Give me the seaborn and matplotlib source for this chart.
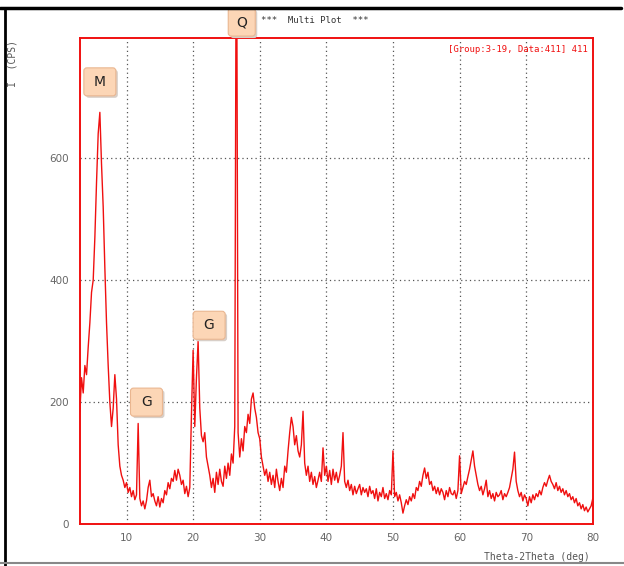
import numpy as np
import pandas as pd
import matplotlib
matplotlib.use("Agg")
import matplotlib.pyplot as plt
import seaborn as sns
from matplotlib.lines import Line2D
from matplotlib.patches import FancyBboxPatch

# 2-theta scan, 0.25 deg step, one row per degree (x.00, x.25, x.50, x.75)
theta_start = 3.0
theta_step = 0.25
counts_rows = [
    [185, 240, 215, 260],   # 3
    [245, 290, 330, 380],   # 4
    [400, 470, 560, 640],   # 5
    [675, 590, 520, 420],   # 6
    [330, 260, 200, 160],   # 7
    [190, 245, 205, 130],   # 8
    [95, 80, 72, 60],       # 9
    [68, 52, 60, 45],       # 10
    [55, 40, 48, 165],      # 11
    [42, 30, 38, 25],       # 12
    [38, 60, 72, 45],       # 13
    [50, 38, 30, 45],       # 14
    [28, 42, 35, 55],       # 15
    [48, 68, 58, 75],       # 16
    [70, 88, 72, 90],       # 17
    [80, 65, 72, 50],       # 18
    [62, 45, 60, 180],      # 19
    [285, 160, 240, 300],   # 20
    [190, 145, 135, 150],   # 21
    [110, 95, 80, 60],      # 22
    [75, 52, 85, 65],       # 23
    [90, 70, 62, 95],       # 24
    [75, 100, 80, 115],     # 25
    [100, 160, 1100, 150],  # 26
    [110, 140, 120, 160],   # 27
    [150, 180, 165, 205],   # 28
    [215, 190, 175, 150],   # 29
    [140, 110, 95, 80],     # 30
    [90, 70, 85, 65],       # 31
    [80, 60, 90, 70],       # 32
    [55, 75, 60, 95],       # 33
    [85, 120, 150, 175],    # 34
    [160, 130, 145, 120],   # 35
    [110, 130, 185, 100],   # 36
    [80, 95, 70, 85],       # 37
    [65, 78, 60, 72],       # 38
    [85, 70, 125, 80],      # 39
    [95, 70, 88, 65],       # 40
    [90, 72, 85, 68],       # 41
    [80, 95, 150, 70],      # 42
    [60, 72, 55, 65],       # 43
    [48, 62, 50, 58],       # 44
    [65, 48, 60, 52],       # 45
    [58, 45, 62, 50],       # 46
    [55, 42, 58, 38],       # 47
    [52, 45, 60, 42],       # 48
    [50, 40, 55, 48],       # 49
    [120, 45, 52, 38],      # 50
    [48, 35, 18, 30],       # 51
    [40, 32, 45, 38],       # 52
    [50, 42, 60, 55],       # 53
    [70, 62, 80, 92],       # 54
    [75, 85, 65, 70],       # 55
    [55, 62, 50, 60],       # 56
    [48, 58, 52, 40],       # 57
    [55, 45, 60, 50],       # 58
    [48, 55, 42, 55],       # 59
    [112, 50, 60, 70],      # 60
    [65, 78, 90, 105],      # 61
    [120, 95, 80, 65],      # 62
    [55, 62, 48, 58],       # 63
    [72, 45, 55, 42],       # 64
    [50, 38, 52, 45],       # 65
    [48, 55, 40, 50],       # 66
    [45, 52, 60, 75],       # 67
    [90, 118, 70, 55],      # 68
    [45, 52, 38, 48],       # 69
    [42, 30, 45, 35],       # 70
    [48, 40, 50, 45],       # 71
    [55, 48, 60, 68],       # 72
    [62, 72, 80, 70],       # 73
    [65, 58, 68, 55],       # 74
    [62, 52, 58, 48],       # 75
    [55, 45, 50, 40],       # 76
    [45, 35, 42, 30],       # 77
    [35, 25, 32, 22],       # 78
    [28, 20, 25, 30],       # 79
    [42],                   # 80
]

# phase labels: text, 2theta and counts at the centre of the label box
peak_labels = ["M", "G", "G", "Q"]
label_theta = [6.0, 13.0, 22.4, 27.3]
label_counts = [725, 200, 326, 823]

x_ticks = [10, 20, 30, 40, 50, 60, 70, 80]
y_ticks = [0, 200, 400, 600]

counts = [c for row in counts_rows for c in row]
theta = theta_start + theta_step * np.arange(len(counts))
df = pd.DataFrame({"theta": theta, "counts": counts})

sns.set_style("white")
plt.rcParams["font.family"] = ["DejaVu Sans"]

fig = plt.figure(figsize=(6.24, 5.66), dpi=100)
ax = fig.add_axes([0.128, 0.074, 0.822, 0.859])

RED = "#f01010"
sns.lineplot(data=df, x="theta", y="counts", ax=ax, color=RED,
             linewidth=1.0, estimator=None)

ax.set_xlim(3, 80)
ax.set_ylim(0, 797)
ax.set_xticks(x_ticks)
ax.set_yticks(y_ticks)
ax.set_xticks(np.arange(4, 80, 2), minor=True)
ax.set_yticks(np.arange(0, 797, 20), minor=True)
ax.set_xlabel("")
ax.set_ylabel("")

ax.grid(True, which="major", color="#555555", linestyle=(0, (1, 2.5)), linewidth=0.9)
for s in ax.spines.values():
    s.set_color(RED)
    s.set_linewidth(1.4)

ax.tick_params(axis="x", which="major", direction="inout", length=7, color=RED,
               labelsize=7.5, labelcolor="#666666", pad=3)
ax.tick_params(axis="x", which="minor", direction="in", length=4, color=RED)
ax.tick_params(axis="y", which="major", direction="out", length=5, color="#444444",
               labelsize=7.5, labelcolor="#666666", pad=3)
ax.tick_params(axis="y", which="minor", direction="in", length=3, color="#666666")

ax.text(0.99, 0.985, "[Group:3-19, Data:411] 411", transform=ax.transAxes,
        ha="right", va="top", color=RED, fontsize=6.5, family="DejaVu Sans Mono")

# label boxes, sized in pixels then turned into data units
px_x = 77 / (0.822 * 624)   # degrees per pixel
px_y = 797 / (0.859 * 566)  # counts per pixel
for lab, tx, ty in zip(peak_labels, label_theta, label_counts):
    w = (27 if lab == "Q" else 32) * px_x
    h = 28 * px_y
    shadow = FancyBboxPatch((tx - w / 2 + 2 * px_x, ty - h / 2 - 2 * px_y), w, h,
                            boxstyle=f"round,pad=0,rounding_size={3 * px_x}",
                            mutation_aspect=px_y / px_x,
                            fc="#d8cfc8", ec="none", clip_on=False, zorder=4)
    face = FancyBboxPatch((tx - w / 2, ty - h / 2), w, h,
                          boxstyle=f"round,pad=0,rounding_size={3 * px_x}",
                          mutation_aspect=px_y / px_x,
                          fc="#fcd6b6", ec="#eab690", lw=0.8, clip_on=False, zorder=5)
    ax.add_patch(shadow)
    ax.add_patch(face)
    ax.text(tx, ty, lab, ha="center", va="center", fontsize=10, color="#222222",
            zorder=6, clip_on=False)

fig.text(0.505, 0.963, "***  Multi Plot  ***", ha="center", va="center",
         fontsize=6.5, family="DejaVu Sans Mono", color="#333333")
fig.text(0.945, 0.016, "Theta-2Theta (deg)", ha="right", va="center",
         fontsize=7, family="DejaVu Sans Mono", color="#555555")
fig.text(0.02, 0.887, "I  (CPS)", ha="center", va="center", rotation=90,
         fontsize=7, family="DejaVu Sans Mono", color="#555555")

# outer frame of the screenshot
fig.add_artist(Line2D([0, 0.995], [0.985, 0.985], transform=fig.transFigure, color="black", lw=2.5))
fig.add_artist(Line2D([0.008, 0.008], [0, 0.985], transform=fig.transFigure, color="black", lw=2))
fig.add_artist(Line2D([0, 1], [0.005, 0.005], transform=fig.transFigure, color="#888888", lw=1.5))

fig.savefig("out.png", dpi=100)
